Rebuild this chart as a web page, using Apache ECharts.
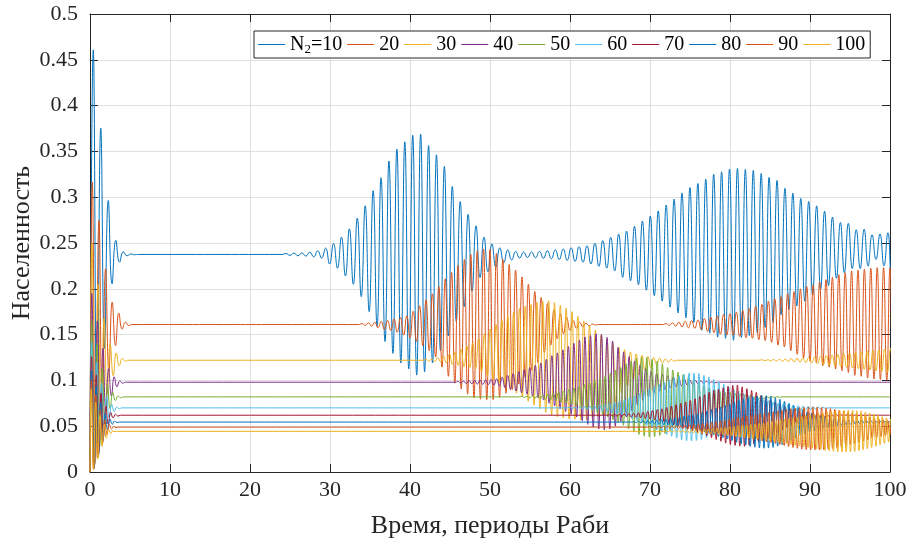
<!DOCTYPE html>
<html><head><meta charset="utf-8">
<script src="https://cdn.jsdelivr.net/npm/echarts@6/dist/echarts.min.js"></script>
<style>html,body{margin:0;padding:0;background:#fff}#c{width:910px;height:542px}</style>
</head><body><div id="c"></div><script>
// ---- data ----
const seriesNames = ['N2=10','20','30','40','50','60','70','80','90','100'];
const colors = ['#0072BD','#D95319','#EDB120','#7E2F8E','#77AC30','#4DBEEE','#A2142F','#0072BD','#D95319','#EDB120'];
const xTicks = [0,10,20,30,40,50,60,70,80,90,100];
const yTicks = [0,0.05,0.1,0.15,0.2,0.25,0.3,0.35,0.4,0.45,0.5];
// steady populations
const levels = [0.2375,0.161,0.122,0.098,0.082,0.070,0.062,0.0545,0.049,0.0444];
// initial transient: time of first maximum, period, maxima, minima
const trFirst = [0.41,0.29,0.25,0.23,0.21,0.20,0.19,0.18,0.17,0.16];
const trPeriod = [0.94,0.83,0.76,0.70,0.66,0.63,0.60,0.58,0.56,0.54];
const trPeaks = [
 [0.4608,0.3753,0.2964,0.2528,0.2405,0.238],
 [0.3164,0.2746,0.2219,0.1855,0.1735,0.1636],
 [0.25,0.205,0.168,0.14,0.13,0.124],
 [0.195,0.165,0.135,0.113,0.104,0.0995],
 [0.165,0.14,0.113,0.095,0.087,0.083],
 [0.142,0.12,0.097,0.082,0.074,0.071],
 [0.126,0.106,0.086,0.072,0.065,0.063],
 [0.111,0.094,0.076,0.064,0.058,0.0555],
 [0.1,0.084,0.068,0.057,0.052,0.0498],
 [0.091,0.076,0.062,0.052,0.047,0.045]
];
const trTroughs = [
 [0.045,0.135,0.2055,0.229,0.236,0.2372],
 [0.015,0.065,0.11,0.138,0.156,0.160],
 [0.01,0.045,0.085,0.105,0.116,0.121],
 [0.008,0.035,0.065,0.083,0.093,0.097],
 [0.006,0.028,0.052,0.069,0.078,0.081],
 [0.005,0.024,0.045,0.059,0.066,0.069],
 [0.004,0.02,0.039,0.052,0.059,0.061],
 [0.004,0.018,0.034,0.046,0.052,0.054],
 [0.003,0.016,0.031,0.041,0.047,0.0485],
 [0.003,0.014,0.028,0.037,0.042,0.044]
];
// revivals: maxima and minima of each oscillation
const n10Peaks = [0.2385,0.239,0.2392,0.240,0.2415,0.2445,
 0.2495,0.2565,0.2655,0.2772,0.2907,0.3071,0.3213,0.3395,0.3525,0.3605,0.3676,0.3688,0.3563,0.3463,0.3336,0.3117,0.2953,0.2813,0.2688,0.2565,0.249,
 0.2448,0.2425,0.2408,0.240,0.2403,0.2408,0.2415,0.2425,0.2435,0.2448,0.246,
 0.247,0.2496,0.2527,0.2562,0.2597,0.263,0.2683,0.274,0.2795,0.285,0.2915,0.2979,0.3046,0.3105,0.315,0.3198,0.325,0.3277,0.3308,0.3313,0.3303,0.3291,0.3258,0.3216,0.3182,0.3098,0.3045,0.2988,0.2954,0.2905,0.2848,0.2784,0.2724,0.2715,0.2645,0.2652,0.259,0.26,0.2612];
const n10Troughs = [0.2365,0.236,0.2357,0.2348,0.2335,
 0.227,0.2225,0.214,0.205,0.1915,0.175,0.159,0.1425,0.1295,0.119,0.1125,0.1058,0.1095,0.119,0.1325,0.1485,0.1645,0.1805,0.1975,0.2124,0.2185,0.2235,
 0.2285,0.2315,0.2335,0.234,0.2338,0.2333,0.2328,0.232,0.231,0.2298,
 0.229,0.2271,0.2245,0.2226,0.2195,0.2125,0.2088,0.2045,0.1985,0.1925,0.1866,0.18,0.1737,0.1683,0.1633,0.1548,0.1515,0.1472,0.146,0.1438,0.1468,0.149,0.1521,0.1579,0.1633,0.1718,0.1775,0.1812,0.1865,0.1934,0.1995,0.2035,0.2115,0.2175,0.2222,0.2222,0.2248,0.232,0.225,0.211];
const n20aPeaks = [0.162,0.1628,0.1635,0.1645,0.1655,0.167,0.1687,0.1705,0.1755,0.1815,0.188,0.1945,0.2025,0.211,0.218,0.2255,0.232,0.2375,0.2415,0.2435,0.243,0.2385,0.232,0.2265,0.2205,0.213,0.205,0.197,0.1905,0.184,0.177,0.1725,0.1685,0.1655,0.1635,0.1625,0.1615];
const n20aTroughs = [0.160,0.1592,0.1575,0.1555,0.1545,0.1525,0.1495,0.1465,0.1425,0.138,0.1325,0.1255,0.1145,0.1045,0.097,0.0905,0.085,0.081,0.0795,0.079,0.079,0.0815,0.086,0.09,0.096,0.103,0.111,0.1195,0.1305,0.1385,0.1455,0.151,0.1545,0.157,0.1585,0.1595,0.1605];
const n20bPeaks = [0.162,0.1628,0.1635,0.1645,0.1652,0.166,0.1675,0.169,0.1705,0.172,0.173,0.1745,0.1765,0.1785,0.181,0.183,0.1865,0.189,0.1915,0.1945,0.197,0.2,0.2025,0.2045,0.2075,0.21,0.2125,0.2155,0.2175,0.2195,0.2205,0.2215,0.2225,0.223,0.223,0.223];
const n20bTroughs = [0.160,0.1592,0.1585,0.1575,0.1568,0.1555,0.1535,0.152,0.1505,0.1495,0.1495,0.148,0.1465,0.146,0.1445,0.1435,0.1415,0.1385,0.1365,0.1325,0.1285,0.1245,0.121,0.119,0.116,0.1145,0.1125,0.1105,0.1085,0.1055,0.1045,0.1025,0.1015,0.1008,0.1002,0.1];
const n30aPeaks = [0.123,0.1235,0.125,0.1265,0.129,0.131,0.134,0.1375,0.141,0.146,0.151,0.156,0.161,0.166,0.171,0.1745,0.1785,0.181,0.183,0.1855,0.1865,0.187,0.185,0.182,0.179,0.175,0.17,0.165,0.16,0.155,0.15,0.145,0.14,0.1365,0.1335,0.131,0.129,0.1275,0.126,0.125,0.1243,0.1235,0.123];
const n30aTroughs = [0.121,0.1205,0.120,0.119,0.1175,0.1165,0.115,0.114,0.1125,0.109,0.105,0.101,0.097,0.093,0.09,0.086,0.082,0.077,0.073,0.069,0.065,0.062,0.060,0.059,0.058,0.0575,0.057,0.057,0.058,0.06,0.062,0.068,0.076,0.086,0.094,0.101,0.106,0.111,0.114,0.117,0.119,0.120,0.121];
const n30bPeaks = [0.1225,0.1226,0.1228,0.123,0.1233,0.1237,0.1242,0.1246,0.125,0.1256,0.1263,0.127,0.1277,0.1285,0.1292,0.13,0.1307,0.1314,0.1321,0.1328,0.1335,0.1343,0.135];
const n30bTroughs = [0.1215,0.1214,0.1212,0.121,0.1207,0.1203,0.1198,0.1194,0.119,0.1182,0.1174,0.1165,0.1158,0.115,0.1142,0.1135,0.1128,0.112,0.1113,0.1105,0.1098,0.109,0.1083];
const n40Peaks = [0.099,0.0992,0.0995,0.1,0.1003,0.1006,0.101,0.1018,0.1035,0.1055,0.1075,0.1095,0.1115,0.114,0.1165,0.119,0.123,0.127,0.13,0.1335,0.137,0.1405,0.144,0.1475,0.149,0.151,0.15,0.147,0.143,0.136,0.131,0.126,0.121,0.117,0.113,0.11,0.1075,0.1065,0.105,0.1035,0.1025,0.1015,0.1005,0.1,0.0995,0.099,0.0985];
const n40Troughs = [0.097,0.0968,0.0964,0.096,0.0956,0.0953,0.0948,0.094,0.092,0.09,0.0885,0.0865,0.085,0.083,0.081,0.0785,0.075,0.072,0.069,0.066,0.063,0.06,0.056,0.052,0.049,0.047,0.046,0.047,0.05,0.055,0.061,0.067,0.073,0.078,0.082,0.086,0.088,0.09,0.0915,0.093,0.094,0.095,0.0958,0.0963,0.0968,0.0972,0.0975];
const n50Peaks = [0.0825,0.0828,0.0831,0.0835,0.0842,0.085,0.086,0.087,0.0885,0.09,0.0915,0.0935,0.0955,0.0975,0.1,0.1025,0.105,0.108,0.111,0.114,0.118,0.121,0.124,0.1255,0.125,0.123,0.121,0.118,0.114,0.1115,0.109,0.1065,0.104,0.101,0.0975,0.0945,0.0925,0.0905,0.0885,0.0875,0.087,0.086,0.085,0.0845,0.084,0.0835,0.083,0.0828,0.0825,0.0823];
const n50Troughs = [0.0814,0.0811,0.0808,0.0804,0.0796,0.0788,0.0778,0.0766,0.0752,0.0738,0.0725,0.0705,0.069,0.067,0.0645,0.0625,0.06,0.057,0.054,0.051,0.047,0.044,0.041,0.039,0.038,0.0385,0.04,0.042,0.045,0.048,0.051,0.053,0.056,0.058,0.06,0.062,0.065,0.067,0.069,0.071,0.073,0.0745,0.076,0.0775,0.0785,0.0795,0.0802,0.0808,0.0812,0.0815];
const n60Peaks = [0.0705,0.0708,0.0712,0.0715,0.0719,0.0724,0.073,0.074,0.075,0.076,0.0775,0.0795,0.0815,0.083,0.0855,0.088,0.091,0.093,0.0955,0.098,0.1005,0.103,0.105,0.1065,0.1078,0.108,0.1075,0.1055,0.1035,0.101,0.0985,0.096,0.093,0.0905,0.088,0.0855,0.0835,0.082,0.0805,0.079,0.0778,0.0765,0.075,0.0743,0.0737,0.073,0.0725,0.072,0.0716,0.0712,0.0709,0.0705];
const n60Troughs = [0.0694,0.0691,0.0687,0.0683,0.0679,0.0674,0.0667,0.0658,0.0647,0.0635,0.062,0.0602,0.058,0.056,0.0535,0.051,0.0485,0.046,0.0435,0.041,0.039,0.037,0.035,0.034,0.034,0.0345,0.0355,0.0375,0.0395,0.0415,0.044,0.046,0.048,0.0505,0.0525,0.0545,0.0562,0.0578,0.0592,0.0605,0.0618,0.063,0.064,0.065,0.0658,0.0665,0.0672,0.0678,0.0683,0.0687,0.0691,0.0695];
const n70Peaks = [0.0625,0.0628,0.0631,0.0634,0.0638,0.0642,0.0647,0.0652,0.066,0.067,0.068,0.069,0.0705,0.072,0.0735,0.075,0.0765,0.078,0.08,0.0825,0.0845,0.087,0.089,0.0905,0.092,0.0935,0.0945,0.095,0.093,0.091,0.089,0.087,0.0835,0.081,0.079,0.0765,0.074,0.0715,0.0698,0.0688,0.067,0.0658,0.0648,0.0642,0.0637,0.0633,0.063,0.0628,0.0626,0.0624,0.0623,0.0622,0.0621];
const n70Troughs = [0.0614,0.0611,0.0608,0.0604,0.06,0.0596,0.0591,0.0585,0.0576,0.0567,0.0558,0.0545,0.053,0.0515,0.05,0.0485,0.047,0.0448,0.043,0.0412,0.0395,0.0375,0.0355,0.0335,0.0315,0.03,0.029,0.0282,0.028,0.029,0.0305,0.0325,0.0345,0.037,0.04,0.043,0.046,0.0485,0.051,0.053,0.0548,0.0565,0.0578,0.0586,0.0593,0.0599,0.0603,0.0607,0.061,0.0612,0.0614,0.0616,0.0617];
const n80Peaks = [0.055,0.0553,0.0557,0.056,0.0563,0.0567,0.0571,0.0575,0.0583,0.0592,0.06,0.0608,0.0617,0.0625,0.0635,0.065,0.0665,0.068,0.0695,0.071,0.0725,0.0745,0.076,0.078,0.0795,0.081,0.082,0.0828,0.0835,0.0832,0.0825,0.081,0.0795,0.0773,0.075,0.0725,0.0703,0.0681,0.0662,0.0645,0.063,0.0615,0.0605,0.0595,0.0587,0.058,0.0575,0.057,0.0566,0.0562,0.0559,0.0557,0.0555,0.0553,0.0551,0.055,0.0549];
const n80Troughs = [0.0539,0.0536,0.0532,0.0529,0.0525,0.0521,0.0517,0.0512,0.0505,0.0497,0.0488,0.048,0.047,0.046,0.045,0.0435,0.042,0.0405,0.039,0.0375,0.036,0.0343,0.0325,0.0307,0.0293,0.028,0.027,0.0263,0.0259,0.0261,0.0268,0.0282,0.03,0.0323,0.0345,0.0369,0.0392,0.0413,0.0432,0.0449,0.0464,0.0477,0.0488,0.0497,0.0505,0.0511,0.0517,0.0521,0.0525,0.0529,0.0532,0.0534,0.0536,0.0538,0.0539,0.054,0.0541];
const n90Peaks = [0.0495,0.0496,0.0498,0.0499,0.05,0.0503,0.0505,0.0508,0.0511,0.0515,0.052,0.0525,0.053,0.0536,0.0542,0.055,0.0558,0.0566,0.0575,0.0584,0.0593,0.0602,0.061,0.0618,0.0626,0.0635,0.0643,0.065,0.0658,0.0666,0.0675,0.0683,0.0691,0.0698,0.0703,0.0707,0.071,0.071,0.0708,0.0705,0.07,0.0692,0.0684,0.0676,0.0666,0.0655,0.0644,0.0633,0.0622,0.0611,0.06,0.0589,0.058,0.0571,0.0563,0.0556];
const n90Troughs = [0.0484,0.0483,0.0482,0.048,0.0478,0.0476,0.0473,0.047,0.0467,0.0462,0.0458,0.0453,0.0448,0.0442,0.0435,0.0428,0.042,0.0412,0.0403,0.0394,0.0385,0.0376,0.0367,0.0358,0.0348,0.0338,0.0328,0.0319,0.031,0.03,0.0289,0.0278,0.0268,0.0258,0.025,0.0245,0.0241,0.024,0.0242,0.0245,0.025,0.0257,0.0265,0.0275,0.0285,0.0298,0.0312,0.0325,0.0338,0.0352,0.0365,0.0378,0.0388,0.0398,0.0406,0.0413];
const n100Peaks = [0.0449,0.045,0.0452,0.0453,0.0454,0.0457,0.046,0.0463,0.0465,0.0468,0.0471,0.0474,0.0478,0.0483,0.0488,0.0494,0.0499,0.0504,0.0509,0.0514,0.052,0.0525,0.0531,0.0537,0.0545,0.0553,0.0561,0.0569,0.0577,0.0584,0.0593,0.06,0.0608,0.0616,0.0624,0.0632,0.064,0.0648,0.0656,0.0662,0.0666,0.067,0.0672,0.0674,0.0673,0.0669,0.0664,0.0654,0.0644,0.0634,0.0619,0.0604,0.0589,0.0577];
const n100Troughs = [0.0438,0.0437,0.0436,0.0434,0.0432,0.043,0.0427,0.0424,0.0422,0.0419,0.0416,0.0412,0.0408,0.0403,0.0397,0.0392,0.0387,0.0382,0.0376,0.0371,0.0365,0.036,0.0354,0.0347,0.0339,0.0331,0.0323,0.0315,0.0307,0.0299,0.0291,0.0284,0.0276,0.0268,0.026,0.0252,0.0244,0.0236,0.023,0.0225,0.0221,0.0218,0.0218,0.0219,0.0224,0.0232,0.0242,0.0252,0.0266,0.0281,0.0296,0.0312,0.0327,0.0339];
// revival segments: series index, time of first maximum, oscillation period
const revivals = [
 {s:0, start:24.5, period:0.99, peaks:n10Peaks, troughs:n10Troughs},
 {s:1, start:34, period:0.8, peaks:n20aPeaks, troughs:n20aTroughs},
 {s:1, start:72, period:0.8, peaks:n20bPeaks, troughs:n20bTroughs},
 {s:2, start:42, period:0.73, peaks:n30aPeaks, troughs:n30aTroughs},
 {s:2, start:84, period:0.73, peaks:n30bPeaks, troughs:n30bTroughs},
 {s:3, start:46, period:0.69, peaks:n40Peaks, troughs:n40Troughs},
 {s:4, start:54, period:0.65, peaks:n50Peaks, troughs:n50Troughs},
 {s:5, start:60, period:0.62, peaks:n60Peaks, troughs:n60Troughs},
 {s:6, start:65, period:0.59, peaks:n70Peaks, troughs:n70Troughs},
 {s:7, start:68, period:0.57, peaks:n80Peaks, troughs:n80Troughs},
 {s:8, start:70, period:0.55, peaks:n90Peaks, troughs:n90Troughs},
 {s:9, start:72, period:0.53, peaks:n100Peaks, troughs:n100Troughs}
];

function buildSeries(k) {
  const L = levels[k];
  const pts = [[0, 0]];
  const P = trPeriod[k], f = trFirst[k];
  trPeaks[k].forEach((p, i) => {
    pts.push([f + i * P, p]);
    pts.push([f + (i + 0.5) * P, trTroughs[k][i]]);
  });
  pts.push([f + trPeaks[k].length * P, L]);
  revivals.filter(r => r.s === k).forEach(r => {
    pts.push([r.start - r.period * 0.5, L]);
    r.peaks.forEach((p, i) => {
      pts.push([r.start + i * r.period, p]);
      pts.push([r.start + (i + 0.5) * r.period, r.troughs[i]]);
    });
    pts.push([r.start + r.peaks.length * r.period, L]);
  });
  if (pts[pts.length - 1][0] < 100) pts.push([100, L]);
  return pts;
}

const FONT = 'Liberation Serif';
const chart = echarts.init(document.getElementById('c'), null, {renderer: 'canvas'});
const series = seriesNames.map((n, k) => ({
  name: n, type: 'line', data: buildSeries(k), symbol: 'none', showSymbol: false, smooth: 0.5,
  clip: true, lineStyle: {width: 1, color: colors[k]}, itemStyle: {color: colors[k]},
  animation: false
}));
const axisCommonX = {type: 'value', min: xTicks[0], max: xTicks[xTicks.length-1], interval: 10};
const axisCommonY = {type: 'value', min: yTicks[0], max: yTicks[yTicks.length-1], interval: 0.05};
chart.setOption({
  animation: false,
  backgroundColor: '#fff',
  grid: {left: 90, right: 20, top: 14, bottom: 70, containLabel: false, outerBoundsMode: 'none'},
  legend: {
    left: 254, top: 31, orient: 'horizontal',
    icon: 'rect', itemWidth: 27, itemHeight: 1, itemGap: 5,
    padding: [2, 5, 2, 4],
    backgroundColor: '#fff', borderColor: '#262626', borderWidth: 1,
    data: seriesNames,
    formatter: function (n) { return n === 'N2=10' ? '{n|N}{s|2}{n|=10}' : '{n|' + n + '}'; },
    textStyle: {
      fontFamily: FONT, fontSize: 20, color: '#000',
      rich: {
        n: {fontFamily: FONT, fontSize: 20, color: '#000', lineHeight: 24},
        s: {fontFamily: FONT, fontSize: 13, color: '#000', lineHeight: 24, padding: [10, 0, 0, 0]}
      }
    }
  },
  xAxis: [
    Object.assign({}, axisCommonX, {
      position: 'bottom',
      name: 'Время, периоды Раби', nameLocation: 'middle', nameGap: 41, nameMoveOverlap: false,
      nameTextStyle: {fontFamily: FONT, fontSize: 26, color: '#262626'},
      axisLine: {show: true, onZero: false, lineStyle: {color: '#262626', width: 1}},
      axisTick: {show: true, inside: true, length: 8, lineStyle: {color: '#262626'}},
      axisLabel: {fontFamily: FONT, fontSize: 22, color: '#262626', margin: 7},
      splitLine: {show: true, lineStyle: {color: '#dfdfdf', width: 1}}
    }),
    Object.assign({}, axisCommonX, {
      position: 'top',
      axisLine: {show: true, onZero: false, lineStyle: {color: '#262626', width: 1}},
      axisTick: {show: true, inside: true, length: 8, lineStyle: {color: '#262626'}},
      axisLabel: {show: false}, splitLine: {show: false}
    })
  ],
  yAxis: [
    Object.assign({}, axisCommonY, {
      position: 'left',
      name: 'Населенность', nameLocation: 'middle', nameGap: 55, nameMoveOverlap: false,
      nameTextStyle: {fontFamily: FONT, fontSize: 26, color: '#262626'},
      axisLine: {show: true, onZero: false, lineStyle: {color: '#262626', width: 1}},
      axisTick: {show: true, inside: true, length: 8, lineStyle: {color: '#262626'}},
      axisLabel: {fontFamily: FONT, fontSize: 22, color: '#262626', margin: 12},
      splitLine: {show: true, lineStyle: {color: '#dfdfdf', width: 1}}
    }),
    Object.assign({}, axisCommonY, {
      position: 'right',
      axisLine: {show: true, onZero: false, lineStyle: {color: '#262626', width: 1}},
      axisTick: {show: true, inside: true, length: 8, lineStyle: {color: '#262626'}},
      axisLabel: {show: false}, splitLine: {show: false}
    })
  ],
  series: series
});
</script></body></html>
